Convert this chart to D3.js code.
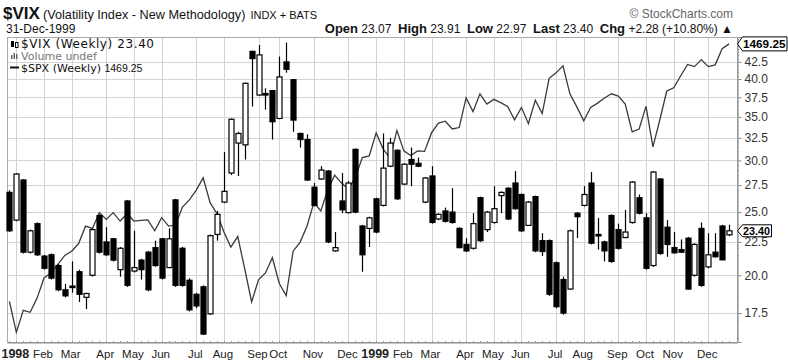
<!DOCTYPE html>
<html>
<head>
<meta charset="utf-8">
<script src="https://cdn.jsdelivr.net/npm/d3@7"></script>
<style>
  body { margin: 0; background: #fff; }
  svg { display: block; font-family: "Liberation Sans", Arial, sans-serif; }
</style>
</head>
<body>
<svg id="chart"></svg>
<script>
// weekly bars, first bar is the week of 29-Dec-1997
const firstWeek = new Date(1997, 11, 29)

const vixOpen = [
  26.8, 24.3, 28.0, 21.7, 24.0, 21.4, 21.5, 20.7, 19.0, 19.25,
  20.25, 18.5, 20.0, 24.7, 22.5, 22.75, 20.4, 26.0, 20.3, 21.1,
  21.7, 22.05, 22.75, 20.55, 26.1, 22.0, 19.65, 18.7, 19.2, 17.45,
  23.1, 25.9, 28.7, 31.9, 31.7, 44.1, 37.8, 38.0, 38.4, 34.8,
  42.5, 39.9, 33.0, 32.3, 27.3, 28.1, 28.9, 21.8, 26.0, 24.95,
  31.2, 23.8, 23.6, 26.2, 25.6, 29.4, 31.1, 27.6, 30.1, 29.7,
  25.9, 28.4, 24.4, 25.1, 25.0, 23.6, 22.3, 22.0, 26.3, 23.5,
  24.1, 26.5, 27.2, 27.7, 26.6, 23.85, 26.4, 22.6, 22.6, 20.9,
  19.7, 19.05, 24.9, 25.6, 27.7, 23.1, 22.5, 24.7, 23.5, 22.85,
  24.1, 26.3, 24.5, 20.7, 28.1, 23.7, 22.05, 21.9, 22.8, 20.0,
  23.6, 20.6, 21.7, 23.8, 23.07
]
const vixHigh = [
  27.0, 28.7, 28.1, 23.5, 24.1, 21.5, 21.6, 20.8, 19.4, 21.0,
  20.4, 18.8, 23.6, 24.8, 23.7, 22.8, 22.1, 26.1, 23.4, 21.2,
  21.8, 22.6, 22.8, 23.6, 26.2, 22.1, 19.8, 18.8, 19.3, 23.1,
  25.1, 30.9, 34.8, 33.2, 39.5, 44.2, 45.1, 38.7, 38.5, 43.3,
  45.5, 40.0, 33.1, 32.9, 27.7, 29.4, 29.0, 23.3, 28.7, 27.9,
  31.3, 23.9, 24.6, 26.3, 33.0, 32.5, 31.2, 29.7, 31.4, 30.3,
  28.3, 29.4, 24.9, 25.4, 27.2, 23.7, 22.8, 24.9, 26.4, 25.1,
  27.4, 26.9, 27.3, 28.9, 26.7, 26.0, 26.5, 23.2, 22.7, 21.0,
  19.9, 23.5, 25.0, 27.4, 28.8, 24.5, 22.6, 24.8, 24.0, 25.2,
  27.9, 26.6, 24.9, 28.9, 28.2, 24.3, 23.3, 22.7, 22.9, 22.4,
  24.1, 23.2, 23.2, 23.9, 23.91
]
const vixLow = [
  23.3, 24.2, 21.6, 21.6, 21.4, 20.4, 19.7, 18.9, 18.5, 18.8,
  18.2, 17.75, 19.9, 21.6, 21.4, 21.0, 19.9, 19.2, 20.2, 19.7,
  18.9, 20.6, 19.7, 20.5, 19.2, 19.2, 17.6, 17.8, 16.2, 17.4,
  22.6, 25.8, 28.5, 28.4, 30.1, 36.3, 37.7, 35.9, 32.3, 34.7,
  40.9, 33.2, 31.4, 27.9, 25.5, 28.0, 22.4, 21.75, 24.9, 24.9,
  24.9, 20.25, 22.1, 23.2, 25.5, 29.3, 26.1, 27.5, 27.4, 29.3,
  25.8, 24.0, 24.3, 24.1, 24.0, 22.0, 21.7, 21.9, 22.5, 23.3,
  24.0, 24.9, 24.3, 25.2, 23.3, 23.8, 21.7, 21.4, 18.6, 17.8,
  17.4, 19.0, 22.8, 25.5, 22.3, 21.9, 21.0, 20.9, 21.9, 22.8,
  24.0, 24.8, 20.4, 20.6, 21.5, 21.35, 21.6, 21.65, 19.0, 19.9,
  19.2, 20.5, 21.3, 21.1, 22.97
]
const vixClose = [
  23.4, 28.6, 21.7, 23.4, 21.5, 20.5, 19.8, 19.0, 18.6, 19.2,
  18.7, 18.75, 23.5, 21.7, 21.5, 21.1, 22.0, 19.3, 20.55, 20.4,
  19.0, 20.7, 19.8, 22.75, 19.3, 19.3, 17.7, 17.95, 16.25, 23.0,
  24.8, 26.9, 34.7, 33.0, 39.4, 43.0, 43.55, 37.9, 34.4, 40.3,
  41.4, 34.6, 32.3, 28.0, 25.6, 29.0, 22.5, 22.05, 25.2, 27.7,
  25.0, 21.5, 24.5, 23.3, 29.2, 31.9, 26.2, 29.6, 29.6, 29.4,
  28.2, 24.1, 24.8, 24.2, 24.1, 22.05, 21.8, 24.0, 22.6, 25.0,
  25.3, 26.8, 24.4, 25.3, 23.4, 25.9, 21.8, 21.75, 18.7, 17.9,
  17.5, 23.4, 24.6, 26.6, 22.4, 23.0, 21.8, 21.0, 22.0, 23.3,
  27.8, 24.9, 20.5, 28.8, 21.6, 22.3, 21.65, 21.7, 19.05, 22.3,
  19.3, 21.5, 21.35, 21.12, 23.40
]
const spxClose = [
  975, 928, 961, 958, 980, 1012, 1020, 1034, 1049, 1056,
  1069, 1099, 1095, 1123, 1111, 1123, 1108, 1121, 1108, 1109,
  1110, 1091, 1114, 1099, 1101, 1133, 1146, 1164, 1187, 1141,
  1121, 1089, 1063, 1081, 1027, 974, 1009, 1020, 1045, 1003,
  984, 1056, 1071, 1099, 1141, 1126, 1164, 1192, 1177, 1166,
  1188, 1226, 1229, 1275, 1243, 1225, 1280, 1239, 1230, 1239,
  1238, 1275, 1295, 1299, 1283, 1286, 1348, 1319, 1357, 1335,
  1345, 1338, 1330, 1302, 1328, 1294, 1343, 1315, 1391, 1403,
  1419, 1357, 1329, 1300, 1328, 1337, 1348, 1357, 1352, 1335,
  1277, 1283, 1330, 1247, 1302, 1363, 1370, 1396, 1422, 1417,
  1433, 1417, 1421, 1458, 1469.25
]

// first bar of each month (week start) and its label
const monthTicks = [
  '1998-01-05', '1998-02-02', '1998-03-02', '1998-04-06', '1998-05-04', '1998-06-01',
  '1998-07-06', '1998-08-03', '1998-09-07', '1998-09-28', '1998-11-02', '1998-12-07',
  '1999-01-04', '1999-02-01', '1999-03-01', '1999-04-05', '1999-05-03', '1999-05-31',
  '1999-07-05', '1999-08-02', '1999-09-06', '1999-10-04', '1999-11-01', '1999-12-06'
]
const monthLabels = [
  '1998', 'Feb', 'Mar', 'Apr', 'May', 'Jun', 'Jul', 'Aug', 'Sep', 'Oct', 'Nov', 'Dec',
  '1999', 'Feb', 'Mar', 'Apr', 'May', 'Jun', 'Jul', 'Aug', 'Sep', 'Oct', 'Nov', 'Dec'
]
const vixTicks = [17.5, 20, 22.5, 25, 27.5, 30, 32.5, 35, 37.5, 40, 42.5]

// canvas and plot box
const width = 788
const height = 361
const plot = { left: 7, right: 737, top: 37, bottom: 342 }

const svg = d3.select('#chart').attr('width', width).attr('height', height)

const xScale = d3.scaleLinear()
  .domain([-0.35, 105.15])
  .range([plot.left, plot.right])
const yScale = d3.scaleLog()
  .domain([15.8, 46.4])
  .range([plot.bottom, plot.top])
const spxScale = d3.scaleLog()
  .domain([913.8, 1485.5])
  .range([plot.bottom, plot.top])

const parse = d3.timeParse('%Y-%m-%d')
const tickIdx = monthTicks.map((d) => d3.timeMonday.count(firstWeek, parse(d)))

// grid
const grid = svg.append('g').attr('stroke', '#d4d4d4').attr('stroke-width', 1)
grid.selectAll('.hg').data(vixTicks).enter().append('line')
  .attr('x1', plot.left).attr('x2', plot.right)
  .attr('y1', (d) => Math.round(yScale(d)) + 0.5)
  .attr('y2', (d) => Math.round(yScale(d)) + 0.5)
grid.selectAll('.vg').data(tickIdx).enter().append('line')
  .attr('y1', plot.top).attr('y2', plot.bottom)
  .attr('x1', (d) => Math.round(xScale(d)) + 0.5)
  .attr('x2', (d) => Math.round(xScale(d)) + 0.5)

// plot frame
svg.append('rect')
  .attr('x', plot.left + 0.5).attr('y', plot.top + 0.5)
  .attr('width', plot.right - plot.left).attr('height', plot.bottom - plot.top)
  .attr('fill', 'none').attr('stroke', '#aaa')

// S&P line
const spxLine = d3.line()
  .x((d, i) => xScale(i))
  .y((d) => spxScale(d))
svg.append('path')
  .datum(spxClose)
  .attr('d', spxLine)
  .attr('fill', 'none')
  .attr('stroke', '#3a3a3a')
  .attr('stroke-width', 1.3)

// candles
const bars = d3.range(vixOpen.length)
const candles = svg.append('g')
candles.selectAll('.wick').data(bars).enter().append('line')
  .attr('x1', (i) => Math.round(xScale(i)) + 0.5)
  .attr('x2', (i) => Math.round(xScale(i)) + 0.5)
  .attr('y1', (i) => yScale(vixHigh[i]))
  .attr('y2', (i) => yScale(vixLow[i]))
  .attr('stroke', '#000')
  .attr('stroke-width', 1.2)
candles.selectAll('.body').data(bars).enter().append('rect')
  .attr('x', (i) => Math.round(xScale(i)) - 2)
  .attr('width', 5)
  .attr('y', (i) => yScale(Math.max(vixOpen[i], vixClose[i])))
  .attr('height', (i) => Math.max(1.5, yScale(Math.min(vixOpen[i], vixClose[i])) - yScale(Math.max(vixOpen[i], vixClose[i]))))
  .attr('fill', (i) => vixClose[i] >= vixOpen[i] ? '#fff' : '#000')
  .attr('stroke', '#000')
  .attr('stroke-width', 1.2)

// right axis
const yAxis = d3.axisRight(yScale)
  .tickValues(vixTicks)
  .tickFormat(d3.format('.1f'))
  .tickSize(4)
  .tickPadding(3)
const gy = svg.append('g')
  .attr('transform', 'translate(' + (plot.right + 0.5) + ',0)')
  .call(yAxis)
gy.select('.domain').attr('stroke', '#888')
gy.selectAll('.tick line').attr('stroke', '#888')
gy.selectAll('text').attr('fill', '#333').style('font-size', '12px')
  .style('font-family', '"Liberation Sans", Arial, sans-serif')
// minor ticks
const minor = d3.range(16, 46.5, 0.5)
svg.append('g').selectAll('line').data(minor).enter().append('line')
  .attr('x1', plot.right).attr('x2', plot.right + 2)
  .attr('y1', (d) => Math.round(yScale(d)) + 0.5)
  .attr('y2', (d) => Math.round(yScale(d)) + 0.5)
  .attr('stroke', '#999')

// bottom axis
const xAxis = d3.axisBottom(xScale)
  .tickValues(tickIdx)
  .tickFormat((d, i) => monthLabels[i])
  .tickSize(0)
  .tickPadding(7)
const gx = svg.append('g')
  .attr('transform', 'translate(0,' + (plot.bottom + 0.5) + ')')
  .call(xAxis)
gx.select('.domain').attr('stroke', '#888')
gx.selectAll('text')
  .attr('dx', -1.5)
  .attr('fill', '#222')
  .style('font-family', '"Liberation Sans", Arial, sans-serif')
  .style('font-weight', (d, i) => /^\d+$/.test(monthLabels[i]) ? 'bold' : 'normal')
  .style('font-size', (d, i) => /^\d+$/.test(monthLabels[i]) ? '12.5px' : '11.5px')
svg.append('g').selectAll('line').data(bars).enter().append('line')
  .attr('x1', (i) => Math.round(xScale(i)) + 0.5)
  .attr('x2', (i) => Math.round(xScale(i)) + 0.5)
  .attr('y1', plot.bottom - 1).attr('y2', plot.bottom + 1)
  .attr('stroke', '#999')

// price tags on the right
function priceTag (y, label, w, h) {
  const g = svg.append('g').attr('transform', 'translate(' + (plot.right + 0.5) + ',' + y + ')')
  g.append('path')
    .attr('d', 'M0,0 L5,-' + h + ' L' + w + ',-' + h + ' L' + w + ',' + h + ' L5,' + h + ' Z')
    .attr('fill', '#fff').attr('stroke', '#000').attr('stroke-width', 1)
  g.append('text')
    .attr('x', 5.5).attr('y', 4.2)
    .attr('font-size', '11.5px').attr('font-weight', 'bold').attr('fill', '#000')
    .attr('textLength', w - 7).attr('lengthAdjust', 'spacingAndGlyphs')
    .text(label)
}
priceTag(spxScale(spxClose[spxClose.length - 1]), '1469.25', 49.5, 7)
priceTag(yScale(vixClose[vixClose.length - 1]), '23.40', 34, 6)

// header
const head = svg.append('g').attr('fill', '#111')
head.append('text').attr('x', 3).attr('y', 19)
  .attr('font-size', '17px').attr('font-weight', 'bold').text('$VIX')
const title = head.append('text').attr('x', 43).attr('y', 19)
  .attr('font-size', '12.7px').text('(Volatility Index - New Methodology)')
const titleEnd = 43 + title.node().getComputedTextLength()
head.append('text').attr('x', titleEnd + 5).attr('y', 19)
  .attr('font-size', '11px').text('INDX + BATS')
head.append('text').attr('x', 6).attr('y', 33)
  .attr('font-size', '12px').text('31-Dec-1999')
head.append('text').attr('x', 733).attr('y', 18)
  .attr('text-anchor', 'end').attr('font-size', '12px').attr('fill', '#666')
  .text('\u00a9 StockCharts.com')

const quote = head.append('text').attr('x', 733).attr('y', 33)
  .attr('text-anchor', 'end').attr('font-size', '12px')
const quoteParts = [
  ['Open', ' 23.07  '], ['High', ' 23.91  '], ['Low', ' 22.97  '],
  ['Last', ' 23.40  '], ['Chg', ' +2.28 (+10.80%) \u25b2']
]
quoteParts.forEach((p) => {
  quote.append('tspan').attr('font-weight', 'bold').attr('font-size', '13px').text(p[0])
  quote.append('tspan').style('white-space', 'pre').text(p[1])
})

// legend
const leg = svg.append('g').style('font-family', '"DejaVu Sans", Verdana, sans-serif')
leg.append('rect').attr('x', 11).attr('y', 41).attr('width', 3).attr('height', 6).attr('fill', '#000')
leg.append('rect').attr('x', 15.5).attr('y', 42.5).attr('width', 2.5).attr('height', 5)
  .attr('fill', '#fff').attr('stroke', '#000').attr('stroke-width', 1)
leg.append('text').attr('x', 21).attr('y', 47.5).attr('font-size', '12px').attr('fill', '#111')
  .attr('textLength', 133).attr('lengthAdjust', 'spacing')
  .text('$VIX (Weekly) 23.40')
leg.selectAll('.vb').data([4, 6, 5]).enter().append('rect')
  .attr('x', (d, i) => 11 + i * 2.5).attr('y', (d) => 59 - d)
  .attr('width', 1.5).attr('height', (d) => d).attr('fill', '#666')
leg.append('text').attr('x', 21).attr('y', 59.5).attr('font-size', '11px').attr('fill', '#777')
  .text('Volume undef')
leg.append('line').attr('x1', 10).attr('x2', 19).attr('y1', 67.5).attr('y2', 67.5)
  .attr('stroke', '#111').attr('stroke-width', 2)
leg.append('text').attr('x', 21).attr('y', 71.5).attr('font-size', '11px').attr('fill', '#111')
  .text('$SPX (Weekly) ')
  .append('tspan').style('font-family', '"Liberation Sans", Arial, sans-serif')
  .attr('font-size', '10.5px').text('1469.25')
</script>
</body>
</html>
